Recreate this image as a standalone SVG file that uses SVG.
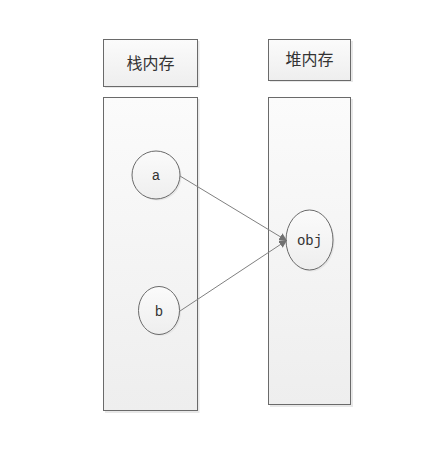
<svg xmlns="http://www.w3.org/2000/svg" width="422" height="463" viewBox="0 0 422 463">
<defs>
<linearGradient id="g" x1="0" y1="0" x2="0" y2="1">
<stop offset="0" stop-color="#fbfbfb"/>
<stop offset="1" stop-color="#eeeeee"/>
</linearGradient>
<marker id="arr" viewBox="0 0 10 10" refX="9" refY="5" markerWidth="8" markerHeight="8" markerUnits="userSpaceOnUse" orient="auto">
<path d="M0,0 L10,5 L0,10 z" fill="#707070"/>
</marker>
</defs>
<style>
.box{fill:url(#g);stroke:#6a6a6a;stroke-width:1}
.sh{fill:#e8e8e8}
.cn{font-family:"Liberation Sans","Noto Sans CJK SC",sans-serif;font-size:16px;fill:#333;text-anchor:middle}
.lb{font-family:"Liberation Mono",monospace;font-size:14px;fill:#333;text-anchor:middle}
.ln{stroke:#808080;stroke-width:1;fill:none}
</style>
<rect width="422" height="463" fill="#ffffff"/>
<g id="stack-header">
<rect class="sh" x="105" y="41" width="94.5" height="47"/>
<rect class="box" x="103.5" y="39.5" width="94" height="47"/>
<text class="cn" x="150.5" y="69">栈内存</text>
</g>
<g id="heap-header">
<rect class="sh" x="270" y="41" width="83" height="41"/>
<rect class="box" x="268.5" y="39.5" width="82" height="41"/>
<text class="cn" x="309.5" y="65">堆内存</text>
</g>
<g id="stack">
<rect class="sh" x="105" y="99" width="94.5" height="314"/>
<rect class="box" x="103.5" y="97.5" width="94" height="313"/>
</g>
<g id="heap">
<rect class="sh" x="270" y="99" width="83" height="308"/>
<rect class="box" x="268.5" y="97.5" width="82" height="307"/>
</g>
<g id="a">
<ellipse cx="157.5" cy="176.5" rx="24" ry="24" fill="#e6e6e6"/>
<ellipse class="box" cx="156" cy="175" rx="24" ry="24"/>
<text class="lb" x="156" y="180">a</text>
</g>
<g id="b">
<ellipse cx="160.5" cy="312" rx="20.5" ry="24" fill="#e6e6e6"/>
<ellipse class="box" cx="159" cy="310.5" rx="20.5" ry="24"/>
<text class="lb" x="159" y="316">b</text>
</g>
<g id="obj">
<ellipse cx="311" cy="241.5" rx="23.5" ry="30" fill="#e6e6e6"/>
<ellipse class="box" cx="309.5" cy="240" rx="23.5" ry="30"/>
<text class="lb" x="309.5" y="245">obj</text>
</g>
<g id="connectors">
<line class="ln" x1="180" y1="176" x2="286.5" y2="240.5" marker-end="url(#arr)"/>
<line class="ln" x1="180" y1="311" x2="286.5" y2="240.5" marker-end="url(#arr)"/>
</g>
</svg>
